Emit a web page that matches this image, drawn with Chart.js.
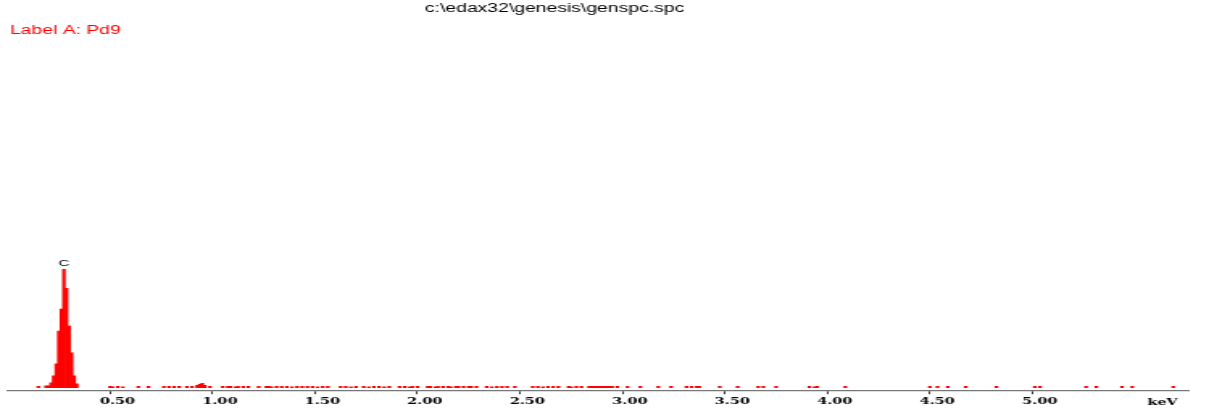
<!DOCTYPE html>
<html><head><meta charset="utf-8">
<script src="https://cdn.jsdelivr.net/npm/chart.js@4"></script>
<style>
html,body{margin:0;padding:0;background:#fff;overflow:hidden;width:1209px;height:414px;}
#wrap{position:absolute;left:0;top:0;width:750px;height:414px;transform:scaleX(1.612);transform-origin:0 0;}
#c{display:block;}
</style></head><body>
<div id="wrap"><canvas id="c" width="750" height="414"></canvas></div>
<script>
const titleText = 'c:\\edax32\\genesis\\genspc.spc';
const labelText = 'Label A: Pd9';
const peakName = 'C';
const axisUnit = 'keV';
const tickValues = [0.5, 1.0, 1.5, 2.0, 2.5, 3.0, 3.5, 4.0, 4.5, 5.0];
const tickLabels = ['0.50', '1.00', '1.50', '2.00', '2.50', '3.00', '3.50', '4.00', '4.50', '5.00'];

// C K-alpha peak channels (keV) and counts
const peakEnergy = [0.1875, 0.2, 0.2125, 0.225, 0.2375, 0.25, 0.2625, 0.275, 0.2875, 0.3, 0.3125, 0.325, 0.3375];
const peakCounts = [20, 20, 50, 120, 240, 570, 790, 1190, 1000, 620, 350, 120, 40];

// background channels (keV) and counts
const noiseEnergy = [
  0.15,
  0.5, 0.5125, 0.5375, 0.5625,
  0.6375, 0.6875,
  0.7625, 0.7875, 0.8125, 0.8375,
  0.875, 0.9, 0.925, 0.9375, 0.95, 0.9625, 0.9875,
  1.05, 1.075, 1.0875, 1.1125, 1.125, 1.15, 1.175,
  1.225, 1.2625,
  1.275, 1.2875, 1.3125, 1.3375, 1.3625, 1.3875, 1.4125, 1.4375, 1.4625,
  1.4875, 1.5125, 1.5375, 1.5625,
  1.625, 1.65, 1.675, 1.7,
  1.7375, 1.7625, 1.7875, 1.8125, 1.8375, 1.8625,
  1.9125, 1.9375, 1.9625, 1.975, 2.0,
  2.05, 2.0625, 2.0875, 2.1, 2.125, 2.15, 2.1625, 2.1875, 2.2, 2.225, 2.25, 2.2625, 2.2875,
  2.3375, 2.3625, 2.3875, 2.4125, 2.4375,
  2.475,
  2.5625, 2.5875, 2.6125, 2.6375, 2.6625, 2.6875,
  2.7375, 2.75, 2.775, 2.8,
  2.8375, 2.85, 2.8625, 2.875, 2.8875, 2.9, 2.9125, 2.925, 2.9375, 2.95, 2.975,
  3.025, 3.0875, 3.175, 3.2375,
  3.3125, 3.3375, 3.3625, 3.375,
  3.475, 3.5625, 3.6625, 3.6875, 3.75,
  3.9125, 3.9375, 3.95,
  4.0875, 4.5, 4.5375, 4.5875, 4.675, 4.825, 5.0125, 5.0375, 5.2625, 5.3125, 5.4375, 5.4875, 5.6875
];
const noiseCounts = [
  15,
  15, 10, 15, 10,
  15, 15,
  15, 15, 15, 15,
  15, 15, 25, 35, 45, 25, 15,
  15, 15, 15, 10, 15, 15, 15,
  15, 15,
  15, 10, 15, 15, 15, 10, 15, 15, 15,
  15, 10, 15, 15,
  15, 15, 10, 15,
  15, 10, 15, 15, 10, 15,
  15, 15, 10, 15, 15,
  15, 15, 10, 15, 15, 15, 10, 15, 15, 15, 15, 15, 15,
  15, 10, 15, 15, 15,
  15,
  15, 15, 10, 15, 15, 15,
  15, 10, 15, 15,
  15, 15, 15, 15, 15, 15, 15, 15, 15, 15, 15,
  15, 15, 15, 15,
  15, 15, 15, 15,
  15, 15, 15, 15, 15,
  15, 10, 15,
  15, 15, 15, 15, 15, 15, 15, 15, 15, 15, 15, 15, 15
];

const points = [];
peakEnergy.forEach((e, i) => points.push({ x: e, y: peakCounts[i] }));
noiseEnergy.forEach((e, i) => points.push({ x: e, y: noiseCounts[i] }));
points.sort((a, b) => a.x - b.x);

const textPlugin = {
  id: 'edaxText',
  afterDraw(chart) {
    const ctx = chart.ctx;
    const xs = chart.scales.x, ys = chart.scales.y;
    ctx.save();
    ctx.textBaseline = 'alphabetic';
    ctx.fillStyle = '#000';
    ctx.font = '12px "Liberation Sans", Arial, sans-serif';
    ctx.textAlign = 'center';
    ctx.fillText(titleText, 344, 12);
    ctx.fillStyle = '#ff0000';
    ctx.textAlign = 'left';
    ctx.fillText(labelText, 6.2, 34);
    let mi = 0;
    peakCounts.forEach((c, i) => { if (c > peakCounts[mi]) mi = i; });
    ctx.fillStyle = '#000';
    ctx.font = '9.5px "Liberation Sans", Arial, sans-serif';
    ctx.textAlign = 'center';
    ctx.fillText(peakName, xs.getPixelForValue(peakEnergy[mi]), ys.getPixelForValue(peakCounts[mi]) - 3);
    ctx.font = 'bold 9px "DejaVu Serif", serif';
    ctx.textAlign = 'right';
    ctx.fillText(axisUnit, chart.chartArea.right - 6.4, 404.5);
    ctx.restore();
  }
};

new Chart(document.getElementById('c'), {
  type: 'bar',
  data: {
    datasets: [{
      data: points,
      backgroundColor: '#ff0000',
      borderWidth: 0,
      barPercentage: 1,
      categoryPercentage: 1
    }]
  },
  options: {
    responsive: false,
    animation: false,
    devicePixelRatio: 1,
    layout: { padding: { left: 4.7, right: 13, top: 42, bottom: 5 } },
    plugins: { legend: { display: false }, tooltip: { enabled: false }, title: { display: false } },
    scales: {
      x: {
        type: 'linear',
        min: 0,
        max: 5.76,
        offset: false,
        afterBuildTicks: (s) => { s.ticks = tickValues.map(v => ({ value: v })); },
        ticks: {
          callback: (v, i) => tickLabels[i],
          font: { family: '"DejaVu Serif", serif', weight: 'bold', size: 9 },
          color: '#000',
          labelOffset: 4.6,
          padding: 2,
          maxRotation: 0,
          autoSkip: false
        },
        grid: { drawOnChartArea: false, drawTicks: true, tickLength: 4, color: '#333', lineWidth: 1, offset: false },
        border: { color: '#777', width: 1.2 }
      },
      y: { display: false, min: -25, max: 3475 }
    }
  },
  plugins: [textPlugin]
});
</script>
</body></html>
